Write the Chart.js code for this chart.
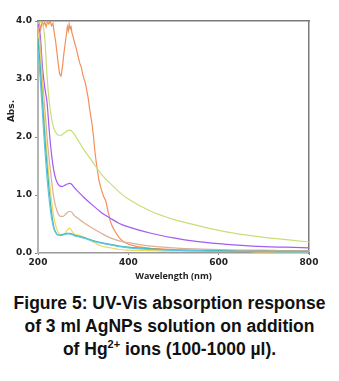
<!DOCTYPE html>
<html>
<head>
<meta charset="utf-8">
<script src="https://cdn.jsdelivr.net/npm/chart.js@4"></script>
<style>
  body { margin: 0; background: #fff; }
  #wrap { position: relative; width: 339px; height: 285px; }
  #caption {
    width: 339px;
    margin-top: 7px;
    font-family: "Liberation Sans", Arial, sans-serif;
    font-weight: bold;
    font-size: 17.5px;
    line-height: 23px;
    text-align: center;
    color: #111;
  }
  #caption sup { font-size: 11px; line-height: 0; vertical-align: 7px; }
</style>
</head>
<body>
<div id="wrap"><canvas id="uv-chart"></canvas></div>
<div id="caption">
  Figure 5: UV-Vis absorption response<br>
  of 3 ml AgNPs solution on addition<br>
  of Hg<sup>2+</sup> ions (100-1000 µl).
</div>
<script>
// wavelength grid (nm) shared by the smooth spectra
const wavelengths = [200, 205, 210, 215, 220, 225, 230, 235, 240, 245, 250, 255, 260, 265, 270, 275, 280, 290, 300, 320, 340, 360, 380, 400, 450, 500, 550, 600, 650, 700, 750, 800];

const greenAbs  = [3.95, 3.98, 3.95, 3.7, 3.05, 2.6, 2.32, 2.15, 2.07, 2.03, 2.03, 2.05, 2.08, 2.11, 2.12, 2.1, 2.05, 1.93, 1.8, 1.58, 1.36, 1.2, 1.05, 0.93, 0.72, 0.58, 0.48, 0.39, 0.32, 0.27, 0.23, 0.19];
const purpleAbs = [3.95, 3.75, 3.2, 2.85, 2.6, 2.1, 1.7, 1.42, 1.26, 1.18, 1.15, 1.15, 1.17, 1.19, 1.2, 1.18, 1.13, 1.05, 0.97, 0.83, 0.7, 0.6, 0.51, 0.45, 0.34, 0.26, 0.2, 0.16, 0.13, 0.11, 0.1, 0.09];
const tanAbs    = [3.9, 3.6, 3.0, 2.5, 2.0, 1.6, 1.25, 0.95, 0.78, 0.67, 0.63, 0.63, 0.66, 0.7, 0.72, 0.7, 0.65, 0.59, 0.53, 0.43, 0.34, 0.26, 0.21, 0.18, 0.12, 0.09, 0.07, 0.06, 0.05, 0.05, 0.04, 0.04];
const yellowAbs = [3.8, 3.4, 2.8, 2.2, 1.7, 1.25, 0.9, 0.62, 0.45, 0.35, 0.32, 0.31, 0.34, 0.4, 0.43, 0.38, 0.33, 0.31, 0.28, 0.2, 0.12, 0.09, 0.06, 0.05, 0.04, 0.03, 0.03, 0.03, 0.03, 0.02, 0.02, 0.02];
const tealAbs   = [3.7, 3.2, 2.6, 2.0, 1.5, 1.05, 0.7, 0.45, 0.35, 0.31, 0.31, 0.32, 0.33, 0.34, 0.34, 0.33, 0.31, 0.29, 0.27, 0.22, 0.18, 0.15, 0.12, 0.1, 0.07, 0.05, 0.04, 0.04, 0.03, 0.03, 0.03, 0.03];
const cyanAbs   = [3.5, 3.0, 2.4, 1.8, 1.3, 0.9, 0.6, 0.42, 0.34, 0.31, 0.3, 0.31, 0.32, 0.33, 0.33, 0.32, 0.3, 0.28, 0.26, 0.21, 0.17, 0.14, 0.11, 0.09, 0.06, 0.05, 0.04, 0.03, 0.03, 0.03, 0.02, 0.02];

// the orange (1000 µl) spectrum is saturated and noisy, so it has its own grid
const orangeWl  = [200, 203, 206, 209, 212, 215, 218, 221, 224, 227, 230, 233, 236, 239, 242, 245, 248, 251, 254, 257, 260, 263, 265, 267, 269, 271, 273, 275, 278, 281, 284, 287, 290, 293, 296, 299, 302, 305, 308, 311, 314, 317, 320, 323, 326, 330, 335, 340, 345, 350, 355, 360, 365, 370, 380, 390, 400, 420, 450, 500, 550, 600, 650, 700, 750, 800];
const orangeAbs = [3.9, 3.97, 3.85, 4.0, 3.93, 3.98, 3.9, 3.99, 3.95, 4.0, 3.92, 3.96, 3.8, 3.65, 3.45, 3.25, 3.08, 3.05, 3.2, 3.42, 3.6, 3.78, 3.9, 3.83, 3.95, 3.86, 3.92, 3.8, 3.72, 3.62, 3.55, 3.45, 3.35, 3.26, 3.2, 3.08, 3.0, 2.93, 2.8, 2.68, 2.5, 2.35, 2.2, 2.0, 1.75, 1.5, 1.25, 1.1, 0.98, 0.9, 0.72, 0.55, 0.45, 0.38, 0.26, 0.19, 0.15, 0.11, 0.08, 0.06, 0.05, 0.05, 0.04, 0.04, 0.03, 0.03];

const xTicks = [200, 400, 600, 800];
const yTicks = [0, 1, 2, 3, 4];

const pts = (xs, ys) => xs.map((x, i) => ({ x: x, y: ys[i] }));

function line(data, color, smooth) {
    return {
        data: data,
        borderColor: color,
        borderWidth: 1.2,
        pointRadius: 0,
        fill: false,
        tension: smooth ? 0.4 : 0,
        cubicInterpolationMode: smooth ? 'monotone' : 'default'
    };
}

const tickFont = { family: 'DejaVu Sans', weight: 'bold', size: 9 };

// "Abs." sits above the middle of the axis in the original
const absLabel = {
    id: 'absLabel',
    afterDraw(chart) {
        const ctx = chart.ctx;
        ctx.save();
        ctx.translate(12, 111);
        ctx.rotate(-Math.PI / 2);
        ctx.font = 'bold 9px "DejaVu Sans"';
        ctx.fillStyle = '#222';
        ctx.textAlign = 'center';
        ctx.textBaseline = 'middle';
        ctx.fillText('Abs.', 0, 0);
        ctx.restore();
    }
};

new Chart(document.getElementById('uv-chart'), {
    type: 'line',
    plugins: [absLabel],
    data: {
        datasets: [
            line(pts(wavelengths, cyanAbs), '#5cc6e6', true),
            line(pts(wavelengths, tealAbs), '#3db3a6', true),
            line(pts(wavelengths, yellowAbs), '#f3d55a', true),
            line(pts(wavelengths, tanAbs), '#ddb093', true),
            line(pts(wavelengths, purpleAbs), '#a55af2', true),
            line(pts(wavelengths, greenAbs), '#c6df78', true),
            line(pts(orangeWl, orangeAbs), '#f5905a', false)
        ]
    },
    options: {
        responsive: true,
        maintainAspectRatio: false,
        animation: false,
        layout: { padding: { top: 21, right: 30, left: 0, bottom: 0 } },
        plugins: { legend: { display: false }, tooltip: { enabled: false } },
        scales: {
            x: {
                type: 'linear',
                min: 200,
                max: 800,
                afterBuildTicks: s => { s.ticks = xTicks.map(v => ({ value: v })); },
                afterFit: s => { s.height = 32; },
                border: { color: '#9a9a9a', width: 1.5 },
                grid: { display: true, drawOnChartArea: false, drawTicks: true, tickLength: 2, color: '#888' },
                ticks: { font: tickFont, color: '#222', padding: 2, maxRotation: 0 },
                title: {
                    display: true,
                    text: 'Wavelength (nm)',
                    font: { family: 'Open Sans', weight: 'bold', size: 9 },
                    color: '#222',
                    padding: { top: 0, bottom: 3 }
                }
            },
            y: {
                min: 0,
                max: 4,
                afterBuildTicks: s => { s.ticks = yTicks.map(v => ({ value: v })); },
                afterFit: s => { s.width = 38; },
                border: { color: '#b4b4b4', width: 2 },
                grid: { display: true, drawOnChartArea: false, drawTicks: true, tickLength: 3, color: '#888' },
                ticks: { font: tickFont, color: '#222', padding: 3, callback: v => v.toFixed(1) }
            },
            x2: {
                type: 'linear',
                position: 'top',
                min: 200,
                max: 800,
                afterFit: s => { s.height = 0; },
                border: { color: '#7a7a7a', width: 1.5 },
                grid: { display: false },
                ticks: { display: false }
            },
            y2: {
                position: 'right',
                min: 0,
                max: 4,
                afterFit: s => { s.width = 0; },
                border: { color: '#7a7a7a', width: 1.5 },
                grid: { display: false },
                ticks: { display: false }
            }
        }
    }
});
</script>
</body>
</html>
